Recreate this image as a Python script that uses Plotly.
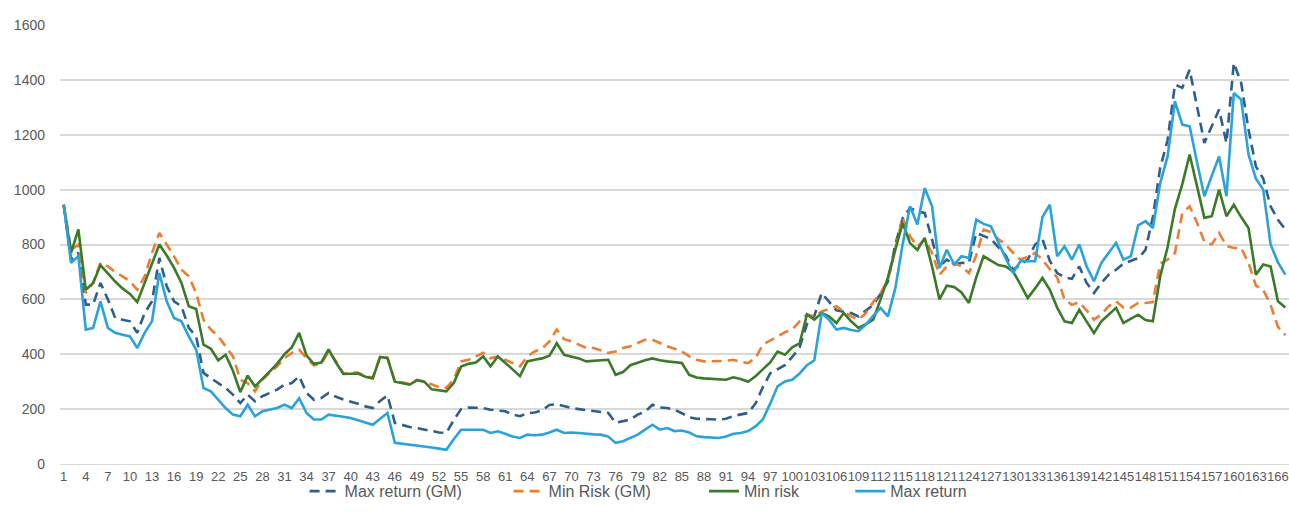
import plotly.graph_objects as go

# Period index 1..167
periods = list(range(1, 168))

max_return_gm = [
    945, 745, 770, 581, 581, 660, 600, 532, 526, 520,
    478, 550, 593, 751, 648, 593, 575, 496, 465, 332,
    313, 295, 277, 253, 222, 253, 228, 247, 259, 271,
    289, 295, 320, 259, 234, 240, 259, 245, 235, 228,
    220, 210, 204, 230, 250, 150, 142, 135, 131, 125,
    120, 115, 113, 160, 200, 206, 205, 204, 198, 195,
    192, 180, 174, 185, 188, 195, 215, 218, 210, 204,
    200, 196, 192, 190, 186, 150, 155, 162, 180, 190,
    216, 206, 204, 198, 185, 170, 165, 165, 163, 162,
    165, 175, 180, 186, 220, 280, 330, 345, 360, 390,
    425, 510, 540, 623, 590, 560, 555, 550, 538, 560,
    580, 620, 665, 800, 895, 933, 920, 915, 818, 720,
    745, 727, 733, 733, 842, 830, 820, 790, 760, 708,
    725, 745, 800, 820, 740, 696, 680, 675, 720, 660,
    623, 660, 690, 708, 730, 740, 750, 780, 900, 1080,
    1180, 1383, 1371, 1437, 1304, 1170, 1231, 1292, 1170, 1462,
    1389, 1219, 1085, 1040, 939, 890, 855,
]

min_risk_gm = [
    945, 780, 800, 623, 660, 733, 720, 700, 684, 666,
    635, 684, 769, 842, 800, 757, 708, 684, 623, 526,
    490, 465, 429, 392, 307, 295, 265, 307, 332, 356,
    386, 405, 417, 385, 360, 365, 410, 375, 330, 332,
    333, 320, 315, 392, 388, 300, 298, 292, 307, 300,
    289, 280, 278, 307, 374, 380, 392, 405, 385, 392,
    380, 368, 356, 392, 410, 420, 447, 490, 455, 447,
    435, 423, 423, 415, 405, 410, 423, 429, 440, 453,
    453, 440, 429, 420, 410, 392, 380, 374, 374, 374,
    376, 380, 372, 368, 386, 435, 450, 465, 480, 490,
    520, 545, 538, 556, 565, 575, 556, 538, 526, 550,
    590, 623, 672, 780, 897, 830, 793, 818, 769, 690,
    720, 733, 720, 696, 760, 854, 845, 820, 800, 770,
    745, 755, 769, 745, 710, 680, 600, 580, 590, 560,
    526, 545, 575, 593, 570, 570, 587, 587, 590, 730,
    745, 770, 915, 939, 880, 810, 800, 842, 795, 787,
    787, 733, 650, 635, 580, 500, 470,
]

min_risk = [
    945, 770, 855, 635, 660, 725, 695, 665, 640, 620,
    590, 660, 730, 800, 760, 715, 660, 575, 565, 435,
    420, 378, 398, 340, 262, 322, 283, 310, 338, 365,
    400, 425, 478, 395, 365, 370, 418, 370, 328, 330,
    330, 318, 312, 390, 386, 300, 295, 289, 305, 300,
    272, 268, 265, 295, 355, 365, 370, 392, 356, 392,
    370, 345, 320, 374, 380, 385, 395, 440, 398, 392,
    385, 374, 376, 378, 380, 325, 335, 360, 370, 378,
    385, 378, 374, 372, 368, 325, 315, 312, 310, 308,
    307, 316, 310, 300, 320, 345, 370, 410, 398, 425,
    440, 545, 526, 550, 538, 514, 550, 520, 496, 510,
    526, 600, 680, 780, 878, 805, 780, 824, 720, 600,
    650, 645, 625, 587, 680, 757, 740, 725, 720, 702,
    655, 605, 640, 678, 635, 570, 520, 514, 562, 520,
    477, 520, 545, 569, 514, 530, 544, 525, 520, 684,
    790, 930, 1020, 1128, 1010, 897, 903, 1000, 903, 945,
    900, 860, 690, 727, 720, 593, 570,
]

max_return = [
    945, 733, 757, 490, 496, 593, 496, 478, 471, 465,
    423, 478, 520, 696, 593, 532, 520, 465, 417, 277,
    265, 235, 204, 180, 174, 216, 174, 192, 198, 204,
    216, 204, 240, 186, 162, 162, 180, 175, 172, 168,
    160, 150, 143, 165, 186, 77, 74, 70, 67, 65,
    60, 56, 52, 90, 125, 125, 125, 125, 113, 119,
    110, 100, 95, 107, 105, 107, 115, 125, 113, 115,
    113, 110, 108, 107, 100, 77, 83, 95, 107, 125,
    143, 125, 131, 120, 122, 115, 101, 98, 96, 95,
    100, 110, 113, 120, 137, 162, 220, 283, 301, 307,
    330, 360, 378, 550, 526, 490, 496, 488, 484, 508,
    540, 569, 538, 640, 800, 939, 873, 1006, 939, 714,
    781, 727, 757, 751, 891, 875, 866, 806, 750, 696,
    739, 740, 739, 900, 945, 757, 793, 745, 800, 720,
    666, 733, 770, 806, 745, 757, 870, 885, 860, 1024,
    1121, 1322, 1237, 1231, 1100, 976, 1050, 1121, 976, 1352,
    1328, 1128, 1040, 1000, 800, 735, 690,
]

x_tickvals = list(range(1, 168, 3))
x_ticktext = [str(v) for v in x_tickvals]
y_tickvals = [0, 200, 400, 600, 800, 1000, 1200, 1400, 1600]

FONT = "Liberation Sans, Arial, sans-serif"
TEXT_GREY = "#595959"
GRID = "#D9D9D9"

# name, values, colour, dash, legend id, legend x (paper)
series = [
    ("Max return (GM)", max_return_gm, "#2E5E8C", "10px,6px", "legend", 0.199),
    ("Min Risk (GM)", min_risk_gm, "#ED7D31", "10px,6px", "legend2", 0.365),
    ("Min risk", min_risk, "#3A7A28", "solid", "legend3", 0.524),
    ("Max return", max_return, "#2AA2DA", "solid", "legend4", 0.643),
]

fig = go.Figure()
legends = {}
for name, values, color, dash, leg, lx in series:
    fig.add_trace(go.Scatter(
        x=periods, y=values, name=name, mode="lines", legend=leg,
        line=dict(color=color, width=2.6, dash=dash),
    ))
    legends[leg] = dict(
        orientation="h", x=lx, xanchor="left", y=-0.062, yanchor="middle",
        font=dict(family=FONT, size=16, color=TEXT_GREY),
        bgcolor="rgba(0,0,0,0)",
    )

fig.update_layout(
    width=1289, height=530,
    margin=dict(l=60, r=0, t=25, b=66),
    paper_bgcolor="white", plot_bgcolor="white",
    font=dict(family=FONT, color=TEXT_GREY, size=12),
    showlegend=True,
    xaxis=dict(
        range=[0.5, 167.5], tickmode="array", tickvals=x_tickvals, ticktext=x_ticktext,
        tickangle=0, showgrid=False, zeroline=False,
        showline=True, linecolor=GRID, linewidth=1,
        ticks="", tickfont=dict(family=FONT, size=13, color=TEXT_GREY),
    ),
    yaxis=dict(
        range=[0, 1600], tickmode="array", tickvals=y_tickvals,
        showgrid=True, gridcolor=GRID, gridwidth=1.5, zeroline=False,
        showline=False, ticks="", ticklabelstandoff=14,
        tickfont=dict(family=FONT, size=14, color=TEXT_GREY),
    ),
    **legends,
)

fig.write_html("out.html")
